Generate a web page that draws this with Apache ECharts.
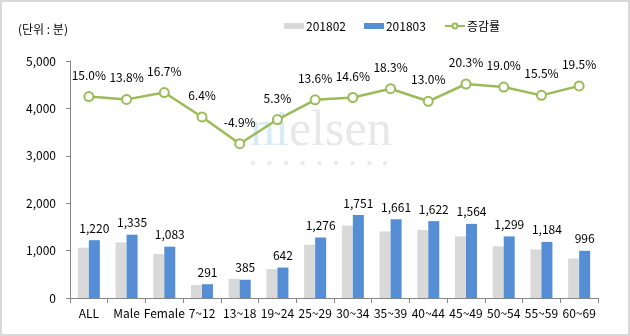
<!DOCTYPE html>
<html><head><meta charset="utf-8">
<script src="https://cdn.jsdelivr.net/npm/echarts@6/dist/echarts.min.js"></script>
<style>
html,body{margin:0;padding:0;background:#fff;}
#wrap{position:relative;width:630px;height:336px;}
#c{position:absolute;left:0;top:0;width:630px;height:336px;}
#frame{position:absolute;left:0;top:0;width:630px;height:336px;box-sizing:border-box;border:2px solid #d9d9d9;pointer-events:none;}
</style></head>
<body><div id="wrap"><div id="c"></div><div id="frame"></div></div>
<script>
const categories = ['ALL','Male','Female','7~12','13~18','19~24','25~29','30~34','35~39','40~44','45~49','50~54','55~59','60~69'];
const s201802 = [1061,1173,928,273,405,610,1123,1528,1404,1435,1300,1092,1025,833];
const s201803 = [1220,1335,1083,291,385,642,1276,1751,1661,1622,1564,1299,1184,996];
const rate = [15.0,13.8,16.7,6.4,-4.9,5.3,13.6,14.6,18.3,13.0,20.3,19.0,15.5,19.5];
const yTicks = [0,1000,2000,3000,4000,5000];

const FONT = '"Noto Sans CJK KR", "Noto Sans", sans-serif';
const chart = echarts.init(document.getElementById('c'));
const dots = [253,269.5,286,302.7,319.3,336,352.7,369.3,385].map(x => ({
  type:'circle', shape:{cx:x, cy:163, r:2.2}, style:{fill:'#ebebeb'}, z:-10
}));
chart.setOption({
  animation:false,
  textStyle:{fontFamily:FONT},
  graphic:[
    {type:'text', left:18, top:23, style:{text:'(단위 : 분)', fontSize:12, fontFamily:FONT, fill:'#000'}},
    {type:'text', left:250, top:107, z:-10, style:{rich:{a:{fontFamily:'"Liberation Serif", "DejaVu Serif", serif', fontSize:50, fill:'#d8ecf4'},b:{fontFamily:'"Liberation Serif", "DejaVu Serif", serif', fontSize:50, fill:'#e8e8e8'}}, text:'{a|ni}{b|elsen}'}},
    ...dots
  ],
  legend:{
    top:15, left:279, itemGap:18, itemWidth:20, itemHeight:6,
    textStyle:{fontSize:12, color:'#000', fontFamily:FONT, padding:[0,0,0,-3]},
    data:[{name:'201802', icon:'rect'},{name:'201803', icon:'rect'},{name:'증감률'}]
  },
  grid:{left:70, right:32, top:61, bottom:38},
  xAxis:{
    type:'category', data:categories,
    axisLine:{lineStyle:{color:'#868686', width:1}},
    axisTick:{show:true, length:5, lineStyle:{color:'#868686'}},
    axisLabel:{color:'#000', fontSize:12, margin:9, interval:0, fontFamily:FONT}
  },
  yAxis:[
    {type:'value', min:0, max:5000, interval:1000,
     axisLine:{show:true, lineStyle:{color:'#868686'}},
     axisTick:{show:true, length:4, lineStyle:{color:'#868686'}},
     splitLine:{show:false},
     axisLabel:{color:'#000', fontSize:12, margin:14, fontFamily:FONT,
       formatter: v => yTicks.includes(v) ? v.toLocaleString('en-US') : ''}},
    {type:'value', min:-70, max:30, show:false, splitLine:{show:false}}
  ],
  series:[
    {name:'201802', type:'bar', data:s201802, barWidth:11, barGap:'0%', itemStyle:{color:'#d9d9d9'}},
    {name:'201803', type:'bar', data:s201803, barWidth:11, itemStyle:{color:'#558ed5'},
     label:{show:true, position:'top', distance:6, color:'#000', fontSize:12, fontFamily:FONT,
       formatter: p => p.value.toLocaleString('en-US')}},
    {name:'증감률', type:'line', yAxisIndex:1, data:rate, symbol:'emptyCircle', symbolSize:9,
     lineStyle:{color:'#9bbb59', width:2.5},
     itemStyle:{color:'#9bbb59', borderWidth:2.5, borderColor:'#9bbb59'},
     label:{show:true, position:'top', distance:10, color:'#000', fontSize:12, fontFamily:FONT,
       formatter: p => p.value.toFixed(1)+'%'}}
  ]
});
</script></body></html>
